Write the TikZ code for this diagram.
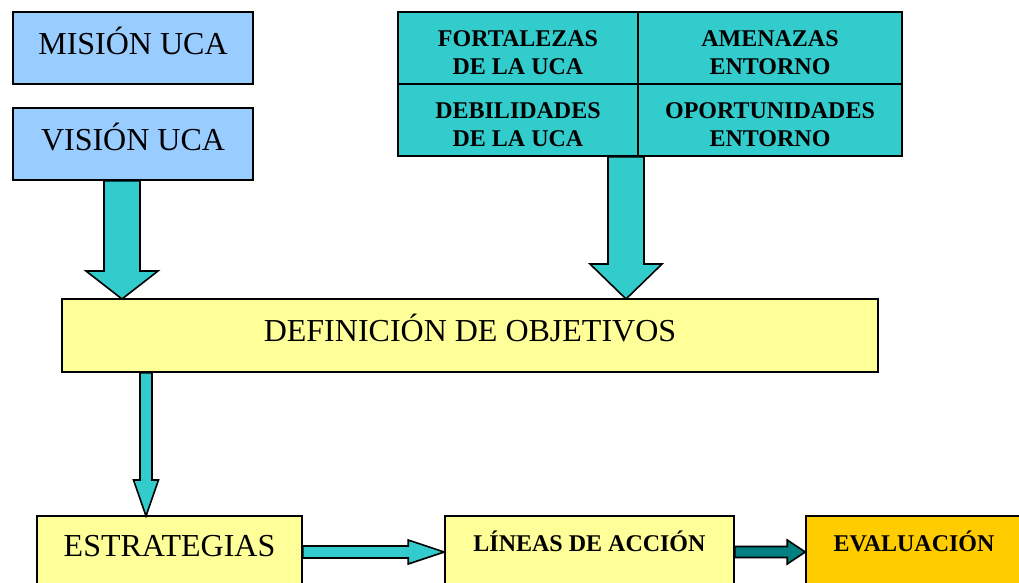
\documentclass[tikz,border=0pt]{standalone}
\usepackage{fontspec}
\setmainfont{Liberation Serif}
\usetikzlibrary{calc}
\definecolor{celeste}{HTML}{99CCFF}
\definecolor{turquesa}{HTML}{33CCCC}
\definecolor{crema}{HTML}{FFFF99}
\definecolor{dorado}{HTML}{FFCC00}
\definecolor{verdeazul}{HTML}{008080}
\newcommand{\alto}{\rule{0pt}{19pt}}
\newcommand{\blockdown}[5]{%
  \draw[blockarr] ($(#2 |- #1)+(-#3,0)$) |- ($(#2)+(-#4,-#5)$) -- (#2)
    -- ($(#2)+(#4,-#5)$) -| ($(#2 |- #1)+(#3,0)$) -- cycle;}
\newcommand{\blockright}[6]{%
  \draw[blockarr,fill=#6] ($(#2 -| #1)+(0,-#3)$) -| ($(#2)+(-#5,-#4)$) -- (#2)
    -- ($(#2)+(-#5,#4)$) |- ($(#2 -| #1)+(0,#3)$) -- cycle;}

\begin{document}
\begin{tikzpicture}
  [x=0.75pt,y=-0.75pt,
   every node/.style={draw,line width=1.2pt,inner sep=0pt},
   big/.style={font=\fontsize{24}{28}\selectfont},
   bold/.style={font=\bfseries\fontsize{18}{21}\selectfont},
   bluebox/.style={big,fill=celeste,minimum width=180pt,minimum height=54pt,text height=31.5pt,text depth=22.5pt},
   foda/.style={bold,fill=turquesa,align=center,minimum height=54pt},
   lowbox/.style={minimum height=54pt},
   blockarr/.style={draw,line width=1.2pt,fill=turquesa,line join=miter}]
  \useasboundingbox (0,0) rectangle (1019,582);

  \node[bluebox] (mision) at (133,48) {MISIÓN UCA};
  \node[bluebox] (vision) at (133,144) {VISIÓN UCA};

  % matriz FODA
  \node[foda,minimum width=180pt] (fortalezas) at (518,48) {\alto FORTALEZAS\\DE LA UCA};
  \node[foda,minimum width=198pt] (amenazas) at (770,48) {\alto AMENAZAS\\ENTORNO};
  \node[foda,minimum width=180pt] (debilidades) at (518,120) {\alto DEBILIDADES\\DE LA UCA};
  \node[foda,minimum width=198pt] (oportunidades) at (770,120) {\alto OPORTUNIDADES\\ENTORNO};

  \node[big,fill=crema,minimum width=612pt,minimum height=54.75pt,text height=31.5pt,text depth=23.25pt] (objetivos) at (470,335.5) {DEFINICIÓN DE OBJETIVOS};

  \node[lowbox,big,fill=crema,minimum width=198.75pt,text height=30pt,text depth=24pt] (estrategias) at (169.5,552) {ESTRATEGIAS};
  \node[lowbox,bold,fill=crema,minimum width=216.75pt,text height=26.25pt,text depth=27.75pt] (lineas) at (589.5,552) {LÍNEAS DE ACCIÓN};
  \node[lowbox,bold,fill=dorado,minimum width=162pt,text height=26.25pt,text depth=27.75pt] (evaluacion) at (914,552) {EVALUACIÓN};

  \coordinate (t1) at (122,299);
  \coordinate (t2) at (626,299);
  \coordinate (t3) at (146,516);

  \foreach \from/\to/\sh/\hd/\len in {vision.south/t1/18/36/28,debilidades.south/t2/18/36/35,objetivos.south/t3/6/12.5/36}
    \blockdown{\from}{\to}{\sh}{\hd}{\len};
  \blockright{estrategias.east}{lineas.west}{6}{12}{36}{turquesa}
  \blockright{lineas.east}{evaluacion.west}{5.5}{12}{18}{verdeazul}
\end{tikzpicture}
\end{document}
